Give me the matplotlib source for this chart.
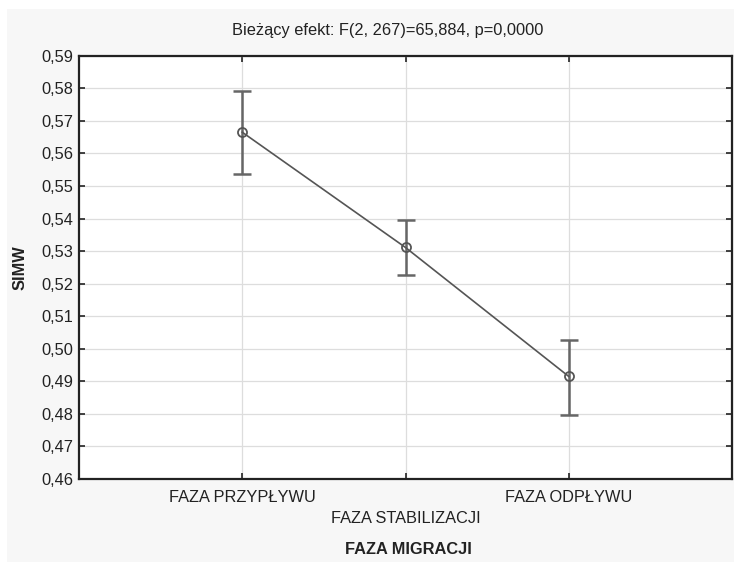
import numpy as np
import matplotlib
matplotlib.use('Agg')
import matplotlib.pyplot as plt
from matplotlib.ticker import FuncFormatter, MultipleLocator
from matplotlib.patches import Rectangle

# data
phases = ['FAZA PRZYPŁYWU', 'FAZA STABILIZACJI', 'FAZA ODPŁYWU']
means = [0.5665, 0.5311, 0.4915]
ci_low = [0.5538, 0.5225, 0.4798]
ci_high = [0.5792, 0.5396, 0.5028]

title = 'Bieżący efekt: F(2, 267)=65,884, p=0,0000'
fs = 11.8

plt.rcParams['font.family'] = ['Liberation Sans', 'DejaVu Sans']

fig = plt.figure(figsize=(7.34, 5.62), dpi=100)
fig.patch.set_facecolor('white')
# light grey panel behind everything
fig.patches.append(Rectangle((7 / 734, 0), 1, 1 - 9 / 562, transform=fig.transFigure,
                             facecolor='#f7f7f7', edgecolor='none', zorder=-10))

ax = fig.add_axes([79 / 734, 1 - 479 / 562, (732 - 79) / 734, (479 - 55.7) / 562])
ax.set_facecolor('white')

x = np.arange(1, len(phases) + 1)
m = np.array(means)
yerr = [m - np.array(ci_low), np.array(ci_high) - m]

ax.plot(x, m, color='#555555', lw=1.2, zorder=3)
ax.errorbar(x, m, yerr=yerr, fmt='none', ecolor='#666666', elinewidth=1.8,
            capsize=6.5, capthick=1.8, zorder=2)
ax.plot(x, m, 'o', ms=6.5, mfc='none', mec='#555555', mew=1.3, zorder=4)

ax.set_xlim(0, 4)
ax.set_ylim(0.46, 0.59)
ax.yaxis.set_major_locator(MultipleLocator(0.01))
ax.yaxis.set_major_formatter(FuncFormatter(lambda v, p: ('%.2f' % v).replace('.', ',')))
ax.set_xticks(x)
ax.set_xticklabels(phases)

ax.grid(True, color='#dddddd', lw=0.9, zorder=0)
ax.set_axisbelow(True)
for s in ax.spines.values():
    s.set_color('#222222')
    s.set_linewidth(1.6)

ax.tick_params(axis='both', direction='in', length=4, width=1.2, color='#222222',
               top=True, right=True, labelsize=fs, labelcolor='#222222')
ax.tick_params(axis='x', pad=8)
ax.tick_params(axis='y', pad=4)
# stagger the middle label lower
ax.xaxis.get_major_ticks()[1].set_pad(23)

ax.set_ylabel('SIMW', fontsize=fs, fontweight='bold', color='#222222')
ax.yaxis.set_label_coords(-(79 - 28) / 653, 0.5)

fig.text(388 / 734, 1 - 30 / 562, title, ha='center', va='center', fontsize=fs, color='#222222')
fig.text(408 / 734, 1 - 549 / 562, 'FAZA MIGRACJI', ha='center', va='center', fontsize=fs,
         fontweight='bold', color='#222222')

fig.savefig('out.png', dpi=100)
